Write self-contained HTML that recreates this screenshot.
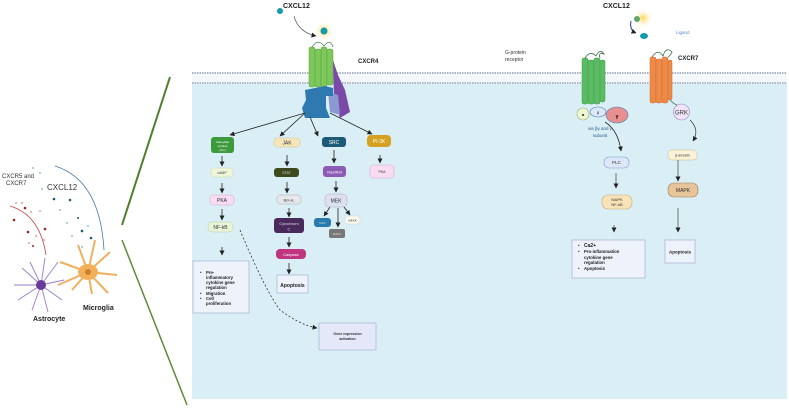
<!DOCTYPE html>
<html><head><meta charset="utf-8"><style>
body{margin:0;width:789px;height:408px;overflow:hidden;background:#fff;font-family:"Liberation Sans",sans-serif}
svg text{font-family:"Liberation Sans",sans-serif}
</style></head><body>
<svg width="789" height="408" viewBox="0 0 789 408" xmlns="http://www.w3.org/2000/svg">
<defs>
<marker id="a" markerUnits="userSpaceOnUse" markerWidth="5" markerHeight="5" refX="4.5" refY="2.5" orient="auto"><path d="M0,0 L5,2.5 L0,5z" fill="#222"/></marker>
<radialGradient id="glow"><stop offset="0" stop-color="#ffd54a"/><stop offset="1" stop-color="#fff" stop-opacity="0"/></radialGradient>
</defs>
<rect x="192" y="73" width="595" height="11" fill="#f4f8fb"/>
<rect x="192" y="84" width="595" height="315" fill="#d9eff5"/>
<line x1="192" y1="73" x2="787" y2="73" stroke="#a9b3c8" stroke-width="2" stroke-dasharray="1.5 1"/>
<line x1="192" y1="83" x2="787" y2="83" stroke="#a9b3c8" stroke-width="2" stroke-dasharray="1.5 1"/>
<line x1="170" y1="77" x2="122" y2="225" stroke="#4f7f2a" stroke-width="2"/>
<line x1="122" y1="240" x2="187" y2="405" stroke="#5e8a3a" stroke-width="1.5"/>
<text x="2" y="178" font-size="6" fill="#333">CXCR5 and</text>
<text x="6" y="185" font-size="6" fill="#333">CXCR7</text>
<text x="47" y="190" font-size="8" fill="#333">CXCL12</text>
<path d="M55,166 Q100,180 104,250" fill="none" stroke="#4a78a8" stroke-width="0.8"/>
<path d="M10,206 Q40,215 46,255" fill="none" stroke="#c84040" stroke-width="0.8"/>
<g fill="#1d5a78"><circle cx="54" cy="199" r="1.3"/><circle cx="70" cy="200" r="1.3"/><circle cx="82" cy="231" r="1.3"/><circle cx="91" cy="238" r="1.3"/><circle cx="78" cy="218" r="1"/></g>
<g fill="#8cc0d8"><circle cx="33" cy="168" r="1"/><circle cx="40" cy="173" r="1"/><circle cx="42" cy="189" r="1"/><circle cx="60" cy="210" r="1"/><circle cx="67" cy="223" r="1"/><circle cx="72" cy="236" r="1"/><circle cx="88" cy="226" r="1"/><circle cx="82" cy="247" r="1"/></g>
<g fill="#a02020"><circle cx="25" cy="208" r="1.3"/><circle cx="14" cy="220" r="1.3"/><circle cx="28" cy="232" r="1.3"/><circle cx="45" cy="229" r="1.3"/><circle cx="33" cy="246" r="1"/></g>
<g fill="#e0a0a0"><circle cx="16" cy="203" r="1"/><circle cx="22" cy="203" r="1"/><circle cx="31" cy="212" r="1"/><circle cx="40" cy="211" r="1"/><circle cx="36" cy="236" r="1"/><circle cx="44" cy="240" r="1"/><circle cx="29" cy="243" r="1"/></g>
<g stroke="#9a7cc8" stroke-width="0.9" fill="none">
<path d="M41,285 L22,268 M41,285 L30,262 M41,285 L45,258 M41,285 L58,262 M41,285 L64,280 M41,285 L62,300 M41,285 L48,312 M41,285 L32,310 M41,285 L18,300 M41,285 L14,285"/>
</g>
<circle cx="41" cy="285" r="5" fill="#6a3a9a"/>
<g stroke="#f0b060" stroke-width="2" fill="none">
<path d="M88,272 L60,262 M88,272 L78,245 M88,272 L95,240 M88,272 L110,252 M88,272 L117,275 M88,272 L108,293 M88,272 L92,294 M88,272 L72,290 M88,272 L58,285"/>
</g>
<ellipse cx="88" cy="272" rx="10" ry="8" fill="#f2b05a"/>
<circle cx="88" cy="272" r="3" fill="#c98030"/>
<text x="83" y="310" font-size="7" font-weight="bold" fill="#222">Microglia</text>
<text x="33" y="321" font-size="7" font-weight="bold" fill="#222">Astrocyte</text>
<text x="283" y="8" font-size="7" font-weight="bold" fill="#222">CXCL12</text>
<circle cx="280" cy="11" r="3" fill="#159aa8"/>
<circle cx="324" cy="31" r="10" fill="url(#glow)"/>
<circle cx="324" cy="31" r="3.5" fill="#159aa8"/>
<path d="M294,16 Q298,32 316,36" fill="none" stroke="#444" stroke-width="0.6" marker-end="url(#a)"/>
<text x="358" y="63" font-size="6" font-weight="bold" fill="#222">CXCR4</text>
<g fill="#7cc85a" stroke="#5aa040" stroke-width="0.5">
<rect x="309" y="47" width="6" height="40" rx="2"/><rect x="315" y="49" width="6" height="38" rx="2"/><rect x="321" y="47" width="6" height="40" rx="2"/><rect x="327" y="49" width="6" height="36" rx="2"/>
</g>
<path d="M312,47 Q318,38 324,46 Q330,38 333,47" fill="none" stroke="#4a8a5a" stroke-width="0.8"/>
<path d="M333,60 L338,75 L345,90 L350,112 L340,118 L334,100z" fill="#7a4aa8"/>
<path d="M328,92 L338,95 L340,115 L330,112z" fill="#8a9ad0"/>
<path d="M305,90 L325,86 L333,88 L333,96 L326,96 L326,108 L330,118 L305,118 L302,108 L306,100z" fill="#2e7ab0"/>
<g stroke="#222" stroke-width="0.8" fill="none" marker-end="url(#a)">
<line x1="305" y1="113" x2="230" y2="135"/>
<line x1="305" y1="113" x2="280" y2="136"/>
<line x1="310" y1="117" x2="318" y2="136"/>
<line x1="330" y1="113" x2="372" y2="134"/>
<line x1="222" y1="156" x2="222" y2="166"/>
<line x1="222" y1="183" x2="222" y2="193"/>
<line x1="222" y1="209" x2="222" y2="220"/>
<line x1="222" y1="247" x2="222" y2="255"/>
<line x1="287" y1="155" x2="287" y2="166"/>
<line x1="287" y1="182" x2="287" y2="193"/>
<line x1="289" y1="208" x2="289" y2="217"/>
<line x1="289" y1="237" x2="289" y2="247"/>
<line x1="289" y1="263" x2="289" y2="274"/>
<line x1="334" y1="150" x2="334" y2="163"/>
<line x1="336" y1="181" x2="336" y2="192"/>
<line x1="330" y1="207" x2="324" y2="216"/>
<line x1="338" y1="208" x2="338" y2="227"/>
<line x1="344" y1="207" x2="350" y2="215"/>
<line x1="380" y1="155" x2="380" y2="163"/>
</g>
<path d="M240,230 Q265,290 280,310 Q300,325 317,328" fill="none" stroke="#333" stroke-width="0.8" stroke-dasharray="2 2" marker-end="url(#a)"/>
<g font-size="5" text-anchor="middle">
<rect x="211" y="137" width="23" height="16" rx="3" fill="#3c9a3c"/><text x="222.5" y="143" fill="#fff" font-size="3">Adenylate</text><text x="222.5" y="147" fill="#fff" font-size="3">cyclase</text><text x="222.5" y="151" fill="#fff" font-size="3">(AC)</text>
<rect x="211" y="168" width="22" height="9" rx="3" fill="#eef5d8" stroke="#c8d8a8" stroke-width="0.5"/><text x="222" y="174" fill="#444" font-size="3.5">cAMP</text>
<rect x="210" y="195" width="24" height="10" rx="3" fill="#f8dcf2" stroke="#d0a8d0" stroke-width="0.5"/><text x="222" y="202" fill="#333">PKA</text>
<rect x="208" y="222" width="25" height="10" rx="4" fill="#e8f4d8" stroke="#b8d0a0" stroke-width="0.5"/><text x="220.5" y="229" fill="#333">NF-kB</text>
<rect x="274" y="138" width="26" height="9" rx="3" fill="#f6e6bc" stroke="#d8c090" stroke-width="0.5"/><text x="287" y="144.5" fill="#333">JAK</text>
<rect x="274" y="168" width="25" height="9" rx="3" fill="#3e4a1e"/><text x="286.5" y="174" fill="#ddd" font-size="3.5">STAT</text>
<rect x="277" y="195" width="24" height="9" rx="3" fill="#e6e8ec" stroke="#aaa" stroke-width="0.5"/><text x="289" y="201.5" fill="#333" font-size="4">Bcl-xL</text>
<rect x="274" y="218" width="30" height="15" rx="3" fill="#4a2a5c"/><text x="289" y="225" fill="#ddd" font-size="4">Cytochrom</text><text x="289" y="230.5" fill="#ddd" font-size="4">C</text>
<rect x="276" y="249" width="30" height="10" rx="4" fill="#c0357f"/><text x="291" y="256" fill="#fff" font-size="4">Caspase</text>
<rect x="322" y="137" width="24" height="10" rx="3" fill="#1d5a78"/><text x="334" y="144" fill="#fff">SRC</text>
<rect x="323" y="166" width="23" height="11" rx="3" fill="#8c5cb5"/><text x="334.5" y="173.5" fill="#fff" font-size="4">Ras/Raf</text>
<rect x="325" y="194" width="22" height="13" rx="4" fill="#dde0ee" stroke="#aab" stroke-width="0.5"/><text x="336" y="202.5" fill="#333">MEK</text>
<rect x="314" y="218" width="17" height="9" rx="3" fill="#2a7ab0"/><text x="322.5" y="224" fill="#ddd" font-size="3">MKK</text>
<rect x="329" y="229" width="16" height="9" rx="2" fill="#777"/><text x="337" y="235" fill="#ddd" font-size="3">MAPK</text>
<rect x="345" y="216" width="15" height="8" rx="3" fill="#fbfbf0" stroke="#ccd" stroke-width="0.5"/><text x="352.5" y="221.5" fill="#333" font-size="3">MEKK</text>
<rect x="367" y="135" width="24" height="12" rx="4" fill="#d6a020"/><text x="379" y="143" fill="#fff">PI-3K</text>
<rect x="370" y="165" width="24" height="13" rx="3" fill="#f8dcf2" stroke="#d0a8d0" stroke-width="0.5"/><text x="382" y="173" fill="#333" font-size="3.5">PKA</text>
</g>
<rect x="193" y="261" width="56" height="52" fill="#eef2fb" stroke="#aab8d8" stroke-width="0.8"/>
<g font-size="4.3" font-weight="bold" fill="#222">
<text x="200" y="274">•</text><text x="206" y="274">Pre-</text><text x="206" y="279">inflammatory</text><text x="206" y="284">cytokine gene</text><text x="206" y="289">regulation</text>
<text x="200" y="295">•</text><text x="206" y="295">Migration</text>
<text x="200" y="300">•</text><text x="206" y="300">Cell</text><text x="206" y="305">proliferation</text>
</g>
<rect x="277" y="275" width="31" height="18" fill="#eef2fb" stroke="#aab8d8" stroke-width="0.8"/>
<text x="292.5" y="287" font-size="5" font-weight="bold" text-anchor="middle" fill="#222">Apoptosis</text>
<rect x="319" y="323" width="57" height="27" rx="1" fill="#e4e8f8" stroke="#aab8d8" stroke-width="0.8"/>
<text x="347.5" y="335" font-size="3.5" font-weight="bold" text-anchor="middle" fill="#333">Gene expression</text>
<text x="347.5" y="340" font-size="3.5" font-weight="bold" text-anchor="middle" fill="#333">activation</text>
<text x="603" y="8" font-size="7" font-weight="bold" fill="#222">CXCL12</text>
<circle cx="643" cy="18" r="10" fill="url(#glow)"/>
<circle cx="637" cy="19" r="3" fill="#5aa870"/>
<ellipse cx="644" cy="36" rx="4" ry="3" fill="#159aa8"/>
<path d="M631,21 Q629,30 636,33" fill="none" stroke="#4a5aa8" stroke-width="1.2" marker-end="url(#a)"/>
<text x="676" y="34" font-size="4.5" fill="#5a8ad0">Ligand</text>
<text x="505" y="54" font-size="5" fill="#333">G-protein</text>
<text x="505" y="61" font-size="5" fill="#333">receptor</text>
<g fill="#5cbc64" stroke="#3a9a4a" stroke-width="0.5">
<rect x="582" y="58" width="6" height="46" rx="2"/><rect x="588" y="60" width="6" height="44" rx="2"/><rect x="594" y="58" width="6" height="46" rx="2"/><rect x="600" y="60" width="5" height="42" rx="2"/>
</g>
<path d="M585,58 Q590,50 596,56 Q600,48 604,54 Q598,52 600,58" fill="none" stroke="#3a6a4a" stroke-width="0.8"/>
<circle cx="583" cy="114" r="6" fill="#eef5d0" stroke="#9ab070" stroke-width="0.6"/><text x="583" y="116" font-size="4" text-anchor="middle" font-weight="bold">α</text>
<ellipse cx="598" cy="112" rx="8" ry="5" fill="#dce8f8" stroke="#4a78b0" stroke-width="0.6"/><text x="598" y="114" font-size="4" text-anchor="middle" fill="#224">β</text>
<ellipse cx="617" cy="115" rx="11" ry="8" fill="#e89090" stroke="#4a78b0" stroke-width="0.6"/><text x="617" y="118" font-size="5" text-anchor="middle" font-weight="bold">γ</text>
<text x="600" y="130" font-size="4.5" fill="#2a5a8a" text-anchor="middle">via βγ and γ</text>
<text x="600" y="137" font-size="4.5" fill="#2a5a8a" text-anchor="middle">subunit</text>
<path d="M605,122 Q618,130 621,151" fill="none" stroke="#222" stroke-width="0.8" marker-end="url(#a)"/>
<g font-size="4.5" text-anchor="middle">
<rect x="604" y="157" width="25" height="11" rx="5" fill="#dce8f8" stroke="#7a9ac8" stroke-width="0.6"/><text x="616.5" y="164" fill="#333">PLC</text>
<rect x="602" y="195" width="30" height="14" rx="6" fill="#f8e2b8" stroke="#c8a878" stroke-width="0.6"/><text x="617" y="201" fill="#333" font-size="4">MAPK</text><text x="617" y="206" fill="#333" font-size="4">NF-kB</text>
<rect x="668" y="150" width="29" height="10" rx="4" fill="#fbf3d8" stroke="#c8b888" stroke-width="0.5"/><text x="682.5" y="156.5" fill="#333" font-size="3.5">β-arrestin</text>
<rect x="668" y="183" width="30" height="14" rx="6" fill="#e8c49a" stroke="#9a7a5a" stroke-width="0.6"/><text x="683" y="192" fill="#333" font-size="5">MAPK</text>
</g>
<g stroke="#555" stroke-width="0.8" marker-end="url(#a)">
<line x1="616" y1="173" x2="616" y2="188"/>
<line x1="614" y1="225" x2="614" y2="232"/>
<line x1="678" y1="160" x2="678" y2="181"/>
<line x1="678" y1="208" x2="678" y2="232"/>
</g>
<g fill="#ee8a48" stroke="#d06a30" stroke-width="0.5">
<rect x="650" y="57" width="6" height="46" rx="2"/><rect x="656" y="59" width="6" height="44" rx="2"/><rect x="662" y="57" width="6" height="46" rx="2"/><rect x="668" y="60" width="4" height="40" rx="2"/>
</g>
<path d="M652,57 Q658,48 663,56 Q666,46 672,52 Q670,56 668,57" fill="none" stroke="#3a6a4a" stroke-width="0.8"/>
<path d="M670,100 Q676,106 680,106" fill="none" stroke="#3a6a4a" stroke-width="0.8"/>
<text x="678" y="60" font-size="6" font-weight="bold" fill="#222">CXCR7</text>
<circle cx="681.5" cy="112" r="8" fill="#efe4f8" stroke="#9a80c8" stroke-width="0.6"/><text x="681.5" y="114.5" font-size="6" text-anchor="middle" fill="#333">GRK</text>
<path d="M690,120 Q700,130 693,141" fill="none" stroke="#333" stroke-width="0.7" marker-end="url(#a)"/>
<rect x="572" y="240" width="73" height="38" fill="#eef2fb" stroke="#aab8d8" stroke-width="0.8"/>
<g font-size="4.3" font-weight="bold" fill="#222">
<text x="578" y="247">•</text><text x="584" y="247" font-size="5">Ca2+</text>
<text x="578" y="253">•</text><text x="584" y="253">Pro-inflammation</text><text x="584" y="259">cytokine gene</text><text x="584" y="264">regulation</text>
<text x="578" y="270">•</text><text x="584" y="270">Apoptosis</text>
</g>
<rect x="665" y="240" width="30" height="23" fill="#eef2fb" stroke="#aab8d8" stroke-width="0.8"/>
<text x="680" y="253.5" font-size="4.5" font-weight="bold" text-anchor="middle" fill="#222">Apoptosis</text>
</svg>
</body></html>
